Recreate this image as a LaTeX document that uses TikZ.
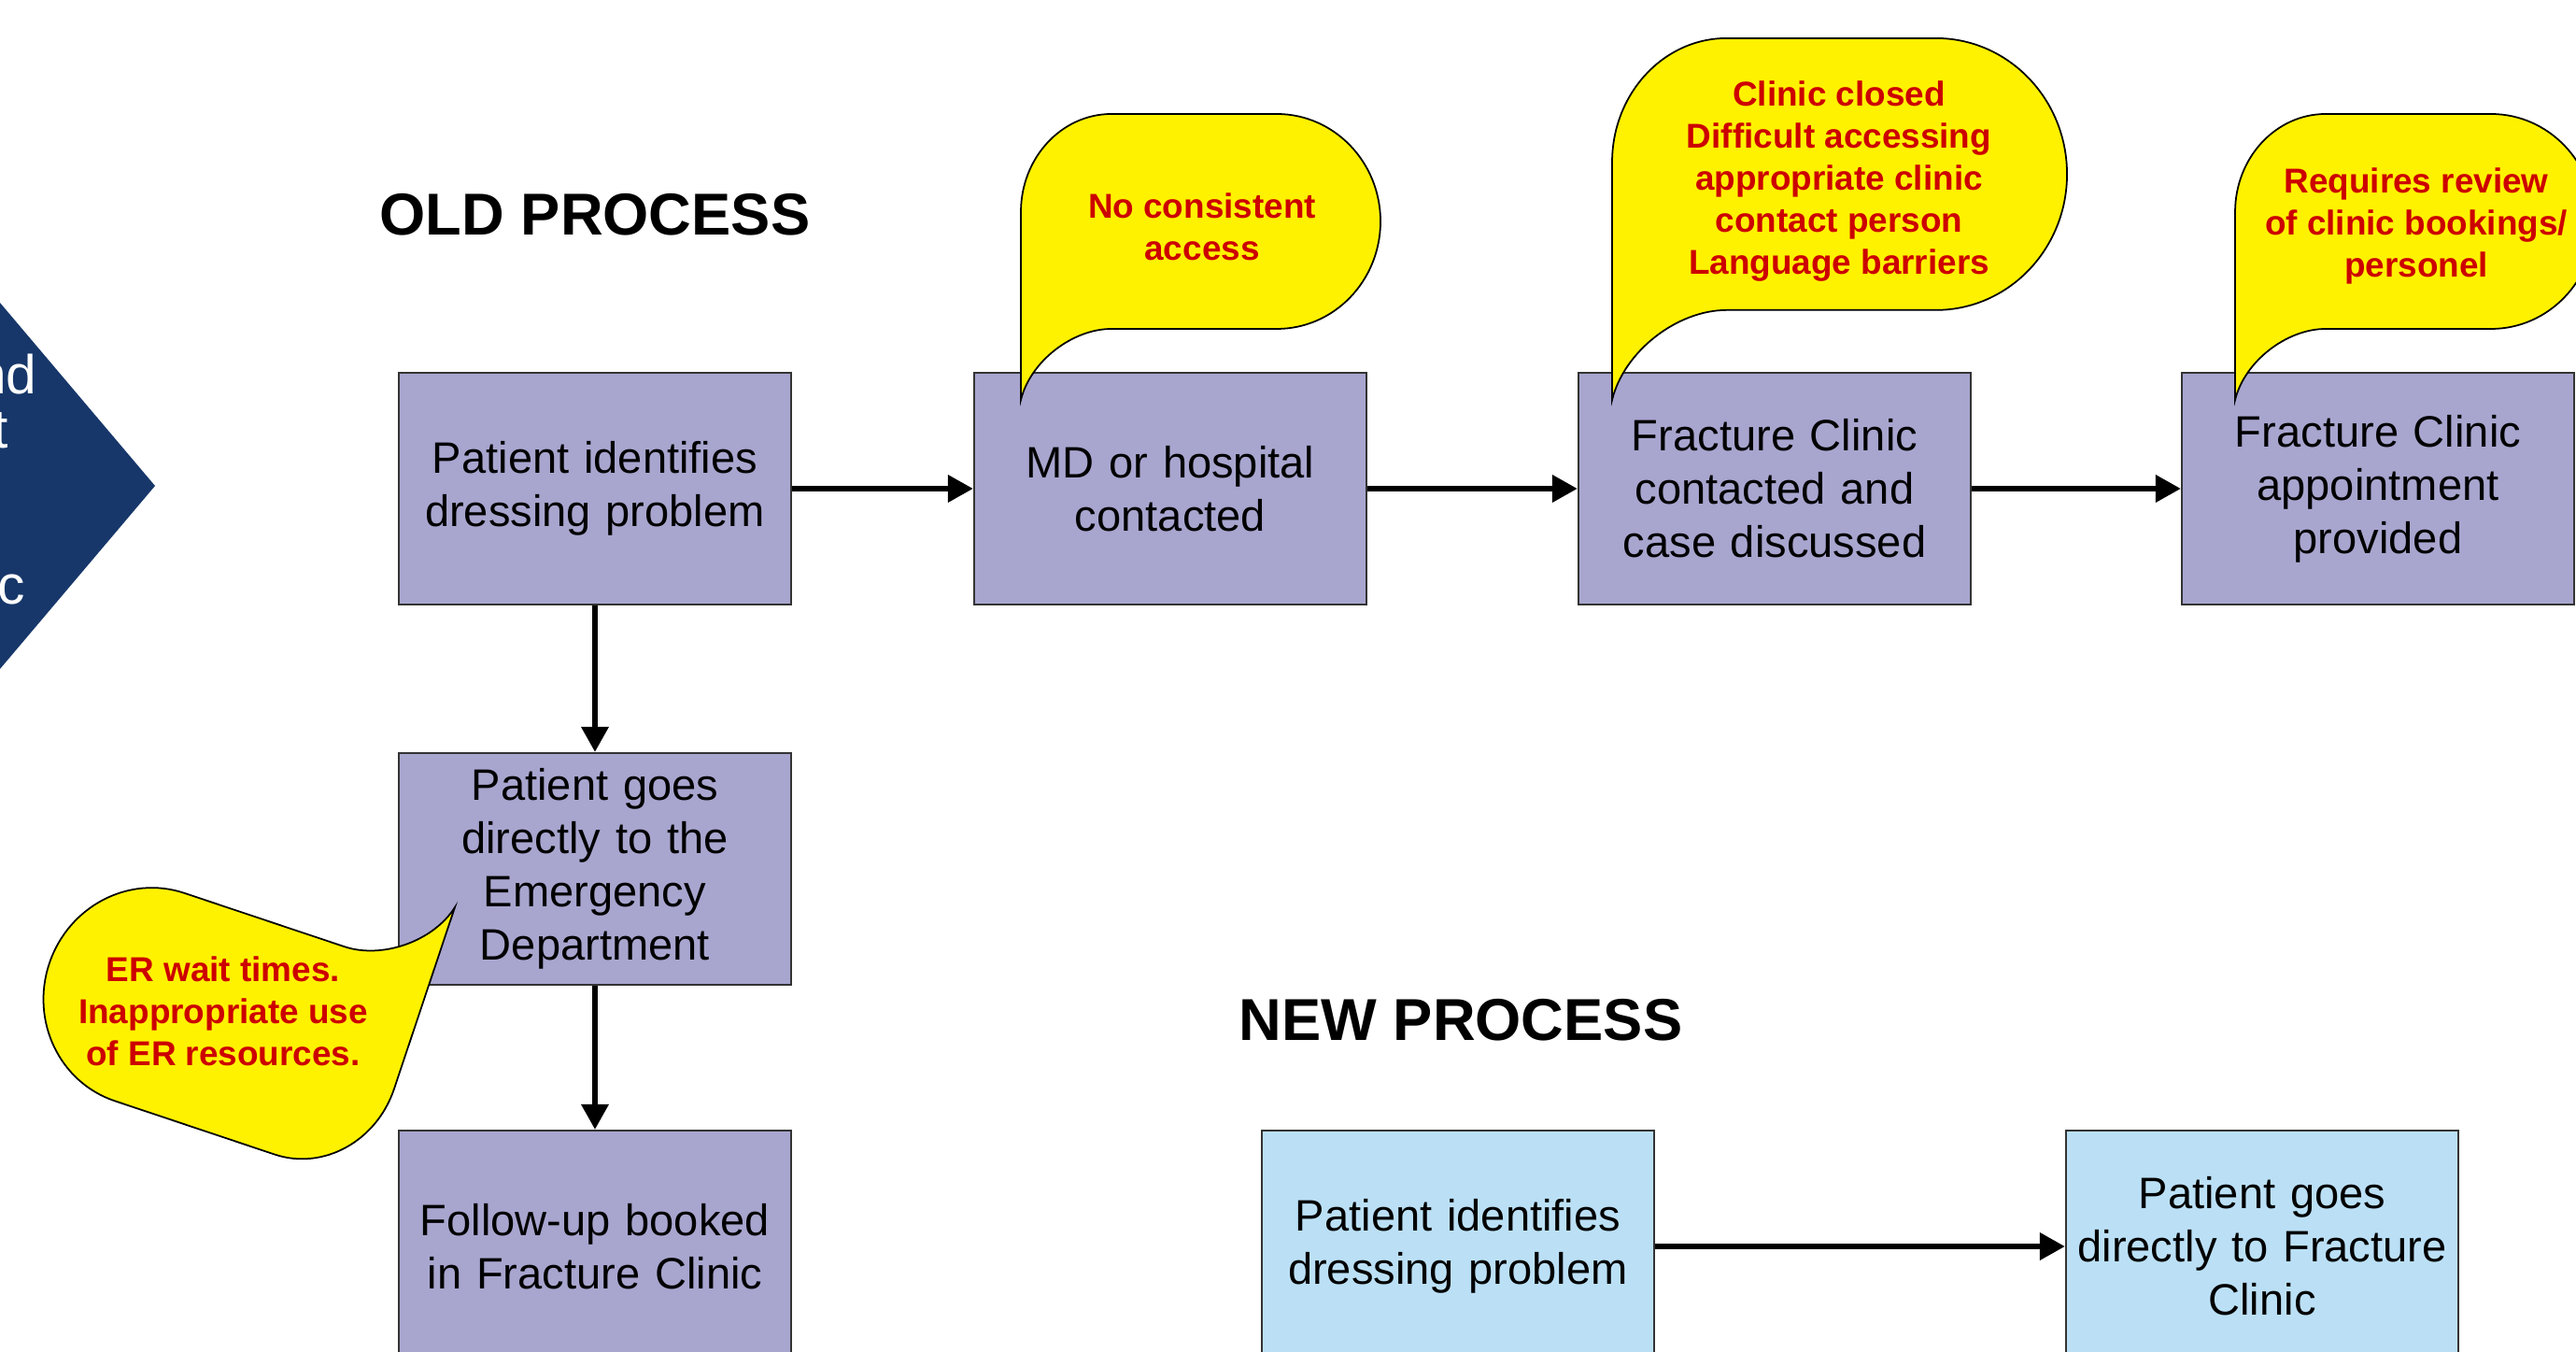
\documentclass[tikz,border=0pt]{standalone}
\usepackage{fontspec}
\setmainfont{Liberation Sans}
\usetikzlibrary{arrows.meta}
\definecolor{oldlilac}{RGB}{168,166,207}
\definecolor{newblue}{RGB}{187,224,246}
\definecolor{navy}{RGB}{23,55,106}
\definecolor{notered}{RGB}{204,0,0}
\tikzset{
  oldbox/.style = {rectangle, draw=black!80, line width=0.6pt, fill=oldlilac,
                   minimum width=4.2cm, minimum height=2.48cm, inner sep=0pt,
                   text width=4.1cm, align=center,
                   font=\fontsize{13.4}{16.2}\selectfont},
  newbox/.style = {oldbox, fill=newblue},
  flow/.style = {line width=1.8pt, -{Triangle[length=0.27cm, width=0.28cm]}},
  heading/.style = {inner sep=0pt, font=\fontsize{18}{22}\selectfont\bfseries},
  notetext/.style = {text=notered, align=center, inner sep=0pt,
                     font=\fontsize{10.5}{12.8}\selectfont\bfseries},
  pics/bubble/.style = {code={
    \filldraw[fill=yellow, draw=black, line width=0.5pt] (0,0) -- (0,2.01)
      arc[start angle=180, end angle=90, x radius=0.97, y radius=1.05] -- (2.74,3.06)
      arc[start angle=90, end angle=-90, x radius=1.11, y radius=1.15] -- (0.97,0.76)
      .. controls (0.55,0.76) and (0.10,0.41) .. (0,0) -- cycle;
  }}
}

\begin{document}
\begin{tikzpicture}
	\def \W{27.58}
	\def \H{14.46}
	\def \rowA{9.23} % old process, top row
	\def \rowB{5.16}
	\def \rowC{1.12} % bottom row, cut by the frame
	\def \tip{10.18}
	
	\useasboundingbox (0,0) rectangle (\W,\H);
	\clip (0,0) rectangle (\W,\H);
	
	% Chevron at the left edge
	\fill[navy] (-0.5,11.81) -- (1.66,9.26) -- (-0.5,6.71) -- cycle;
	\node[white, anchor=base east, inner sep=0pt, font=\fontsize{16.7}{20}\selectfont] (chevA) at (0.40,10.24) {nd};
	\node[white, anchor=base east, inner sep=0pt, font=\fontsize{16.7}{20}\selectfont] (chevB) at (0.10,9.66) {t};
	\node[white, anchor=base east, inner sep=0pt, font=\fontsize{16.7}{20}\selectfont] (chevC) at (0.28,7.99) {c};
	
	% Titles
	\node[heading] (oldTitle) at (6.37,12.16) {OLD PROCESS};
	\node[heading] (newTitle) at (15.64,3.54) {NEW PROCESS};
	
	% Old process
	\node[oldbox] (oldIdentify) at (6.37,\rowA) {Patient identifies\\dressing problem};
	\node[oldbox] (oldContact)  at (12.53,\rowA) {MD or hospital\\contacted};
	\node[oldbox] (oldDiscuss)  at (19.00,\rowA) {Fracture Clinic\\contacted and\\case discussed};
	\node[oldbox] (oldAppt)     at (25.46,\rowA) {Fracture Clinic\\appointment\\provided};
	\node[oldbox] (oldER)       at (6.37,\rowB) {Patient goes\\directly to the\\Emergency\\Department};
	\node[oldbox] (oldFollow)   at (6.37,\rowC) {Follow-up booked\\in Fracture Clinic};
	
	\draw[flow] (oldIdentify) -- (oldContact);
	\draw[flow] (oldContact) -- (oldDiscuss);
	\draw[flow] (oldDiscuss) -- (oldAppt);
	\draw[flow] (oldIdentify) -- (oldER);
	\draw[flow] (oldER) -- (oldFollow);
	
	% New process
	\node[newbox] (newIdentify) at (15.61,\rowC) {Patient identifies\\dressing problem};
	\node[newbox] (newDirect)   at (24.22,\rowC) {Patient goes\\directly to Fracture\\Clinic};
	
	\draw[flow] (newIdentify) -- (newDirect);
	
	% Callouts
	\pic[scale=1] at (10.93,\tip) {bubble};
	\pic[scale=1.265] at (17.26,\tip) {bubble};
	\pic[scale=1] at (23.93,\tip) {bubble};
	\pic[rotate=161.5, scale=1.02] at (4.87,4.75) {bubble};
	
	\node[notetext] (noteAccess) at (12.87,12.035) {No consistent\\access};
	\node[notetext] (noteClinic) at (19.69,12.52) {Clinic closed\\Difficult accessing\\appropriate clinic\\contact person\\Language barriers};
	\node[notetext] (noteReview) at (25.87,12.04) {Requires review\\of clinic bookings/\\personel};
	\node[notetext] (noteER)     at (2.39,3.64) {ER wait times.\\Inappropriate use\\of ER resources.};
	
\end{tikzpicture}
\end{document}
